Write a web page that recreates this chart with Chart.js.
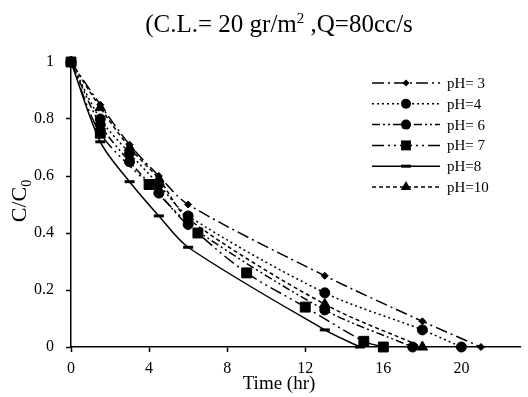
<!DOCTYPE html>
<html>
<head>
<meta charset="utf-8">
<script src="https://cdn.jsdelivr.net/npm/chart.js@4/dist/chart.umd.min.js"></script>
<style>
  body { margin: 0; background: #fff; }
  #wrap { width: 528px; height: 397px; }
</style>
</head>
<body>
<div id="wrap"><canvas id="myChart"></canvas></div>
<script>
// values (time in hr, C/C0)
var labels = ["pH= 3", "pH=4", "pH= 6", "pH= 7", "pH=8", "pH=10"];

var t3 = [0, 1.5, 3, 4.5, 6, 13, 18, 21];
var c3 = [1, 0.85, 0.71, 0.60, 0.50, 0.25, 0.09, 0];

var t4 = [0, 1.5, 3, 4.5, 6, 13, 18, 20];
var c4 = [1, 0.80, 0.68, 0.57, 0.46, 0.19, 0.06, 0];

var t6 = [0, 1.5, 3, 4.5, 6, 13, 17.5];
var c6 = [1, 0.78, 0.65, 0.54, 0.43, 0.13, 0];

var t7 = [0, 1.5, 4, 6.5, 9, 12, 15, 16];
var c7 = [1, 0.75, 0.57, 0.40, 0.26, 0.14, 0.02, 0];

var t8 = [0, 1.5, 3, 4.5, 6, 13, 14.8];
var c8 = [1, 0.72, 0.58, 0.46, 0.35, 0.06, 0];

var t10 = [0, 1.5, 3, 4.5, 6, 13, 18];
var c10 = [1, 0.84, 0.70, 0.59, 0.45, 0.15, 0];

var xTicks = [0, 4, 8, 12, 16, 20];

function pts(t, c) {
    var out = [];
    for (var i = 0; i < t.length; i++) {
        out.push({x: t[i], y: c[i]});
    }
    return out;
}

var serif = "'Liberation Serif', 'Times New Roman', serif";

function series(label, t, c, dash, style, radius) {
    return {
        label: label,
        data: pts(t, c),
        borderColor: "#000",
        backgroundColor: "#000",
        borderWidth: 1.5,
        borderDash: dash,
        pointStyle: style,
        pointRadius: radius,
        pointBorderWidth: style === 'line' ? 3 : 1,
        pointBackgroundColor: "#000",
        pointBorderColor: "#000",
        tension: 0.3,
        clip: false,
        fill: false
    };
}

var datasets = [
    series(labels[0], t3, c3, [12, 4, 2, 4], 'rectRot', 3.5),
    series(labels[1], t4, c4, [2, 3], 'circle', 5),
    series(labels[2], t6, c6, [8, 3, 2, 3, 2, 3], 'circle', 5),
    series(labels[3], t7, c7, [12, 4, 2, 4, 2, 4], 'rect', 7),
    series(labels[4], t8, c8, [], 'line', 5),
    series(labels[5], t10, c10, [4, 3], 'triangle', 6)
];

// draw a legend marker by hand
function marker(ctx, style, r, x, y) {
    ctx.save();
    ctx.fillStyle = "#000";
    ctx.strokeStyle = "#000";
    ctx.setLineDash([]);
    ctx.beginPath();
    if (style === 'circle') {
        ctx.arc(x, y, r, 0, Math.PI * 2);
        ctx.fill();
    } else if (style === 'rect') {
        var s = r * Math.SQRT1_2;
        ctx.fillRect(x - s, y - s, 2 * s, 2 * s);
    } else if (style === 'rectRot') {
        ctx.moveTo(x, y - r); ctx.lineTo(x + r, y); ctx.lineTo(x, y + r); ctx.lineTo(x - r, y);
        ctx.closePath(); ctx.fill();
    } else if (style === 'triangle') {
        ctx.moveTo(x, y - r); ctx.lineTo(x + r * 0.87, y + r * 0.5); ctx.lineTo(x - r * 0.87, y + r * 0.5);
        ctx.closePath(); ctx.fill();
    } else if (style === 'line') {
        ctx.lineWidth = 3;
        ctx.moveTo(x - r, y); ctx.lineTo(x + r, y);
        ctx.stroke();
    }
    ctx.restore();
}

var textPlugin = {
    id: 'texts',
    afterDraw: function(chart) {
        var ctx = chart.ctx;
        ctx.save();
        ctx.fillStyle = "#000";
        ctx.textBaseline = "alphabetic";

        // title with superscript
        ctx.font = "25px " + serif;
        var a = "(C.L.= 20 gr/m", b = "2", c = " ,Q=80cc/s";
        var wa = ctx.measureText(a).width, wc = ctx.measureText(c).width;
        ctx.font = "15px " + serif;
        var wb = ctx.measureText(b).width;
        var x0 = 279 - (wa + wb + wc) / 2;
        ctx.font = "25px " + serif;
        ctx.fillText(a, x0, 32);
        ctx.font = "15px " + serif;
        ctx.fillText(b, x0 + wa, 23);
        ctx.font = "25px " + serif;
        ctx.fillText(c, x0 + wa + wb, 32);

        // y title with subscript
        ctx.save();
        ctx.translate(26, 201);
        ctx.rotate(-Math.PI / 2);
        ctx.font = "22px " + serif;
        var y1 = "C/C";
        var w1 = ctx.measureText(y1).width;
        ctx.font = "14px " + serif;
        var w2 = ctx.measureText("0").width;
        ctx.font = "22px " + serif;
        ctx.fillText(y1, -(w1 + w2) / 2, 0);
        ctx.font = "14px " + serif;
        ctx.fillText("0", -(w1 + w2) / 2 + w1, 5);
        ctx.restore();

        // x title
        ctx.font = "19px " + serif;
        ctx.textAlign = "center";
        ctx.fillText("Time (hr)", 279, 389);

        // legend
        ctx.textAlign = "left";
        ctx.textBaseline = "middle";
        ctx.font = "15px " + serif;
        chart.data.datasets.forEach(function(ds, i) {
            var y = 83 + i * 20.8;
            ctx.save();
            ctx.strokeStyle = "#000";
            ctx.lineWidth = 1.5;
            ctx.setLineDash(ds.borderDash);
            ctx.beginPath();
            ctx.moveTo(372, y);
            ctx.lineTo(440, y);
            ctx.stroke();
            ctx.restore();
            marker(ctx, ds.pointStyle, ds.pointRadius, 406, y);
            ctx.fillText(ds.label, 447, y + 1);
        });
        ctx.restore();
    }
};

var ctx1 = document.getElementById("myChart");
var myChart = new Chart(ctx1, {
    type: 'line',
    data: { datasets: datasets },
    options: {
        responsive: true,
        maintainAspectRatio: false,
        animation: false,
        layout: { padding: { top: 62, left: 0, right: 0, bottom: 0 } },
        plugins: {
            legend: { display: false },
            title: { display: false },
            tooltip: { enabled: false }
        },
        scales: {
            x: {
                type: 'linear',
                min: 0,
                max: 23,
                afterBuildTicks: function(scale) {
                    scale.ticks = xTicks.map(function(v) { return {value: v}; });
                },
                afterFit: function(scale) { scale.height = 50; },
                border: { color: "#000", width: 1.5 },
                grid: { drawOnChartArea: false, color: "#000", tickLength: 5, tickWidth: 1.5 },
                ticks: { color: "#000", padding: 7, maxRotation: 0, font: { family: serif, size: 16 } }
            },
            y: {
                min: 0,
                max: 1,
                afterFit: function(scale) { scale.width = 71; },
                border: { color: "#000", width: 1.5 },
                grid: { drawOnChartArea: false, color: "#000", tickLength: 5, tickWidth: 1.5 },
                ticks: {
                    stepSize: 0.2,
                    color: "#000",
                    padding: 12,
                    font: { family: serif, size: 16 },
                    callback: function(v) { return String(Number(v.toFixed(1))); }
                }
            }
        }
    },
    plugins: [textPlugin]
});
</script>
</body>
</html>
